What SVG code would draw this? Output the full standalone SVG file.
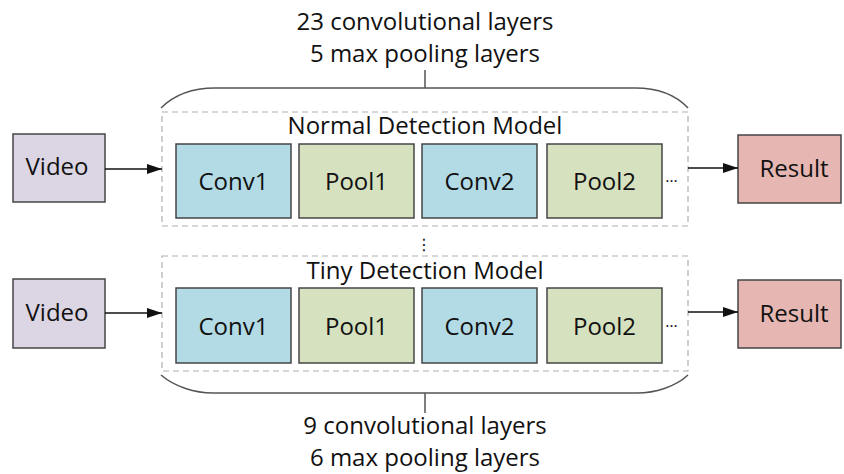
<svg xmlns="http://www.w3.org/2000/svg" width="844" height="474" viewBox="0 0 844 474">
<defs>
<marker id="ah" markerWidth="15" markerHeight="10" refX="15" refY="5" orient="auto" markerUnits="userSpaceOnUse">
<path d="M0,0 L15,5 L0,10 Z" fill="#111"/>
</marker>
<style>
text{font-family:"Open Sans","Liberation Sans",sans-serif;font-size:24px;fill:#111;text-anchor:middle}
.box{stroke:#454545;stroke-width:1.5}
.video{fill:#dcd6e4}
.conv{fill:#b2dbe6}
.pool{fill:#d6e1bf}
.result{fill:#e5b6b2}
.group{fill:none;stroke:#b0b0b0;stroke-width:1.2;stroke-dasharray:6,4}
.brace{fill:none;stroke:#555;stroke-width:1.5}
.conn{fill:none;stroke:#111;stroke-width:1.3}
.dots{font-size:16px}
</style>
</defs>
<rect width="844" height="474" fill="#fff"/>

<g id="label-top">
<text x="425" y="30">23 convolutional layers</text>
<text x="425" y="62">5 max pooling layers</text>
</g>
<g id="brace-top">
<path class="brace" d="M161,108 C175,94 195,88 215,88 L635,88 C655,88 675,94 688,108"/>
<line class="brace" x1="425" y1="70" x2="425" y2="88"/>
</g>

<g id="normal-model">
<rect class="group" x="162" y="112" width="526" height="114"/>
<text x="425" y="134">Normal Detection Model</text>
</g>
<g id="n-video"><rect class="box video" x="13" y="134" width="92" height="68"/><text x="57" y="175">Video</text></g>
<g id="n-conv1"><rect class="box conv" x="176" y="144" width="115" height="74"/><text x="233.5" y="190">Conv1</text></g>
<g id="n-pool1"><rect class="box pool" x="299" y="144" width="115" height="74"/><text x="356.5" y="190">Pool1</text></g>
<g id="n-conv2"><rect class="box conv" x="422" y="144" width="115" height="74"/><text x="479.5" y="190">Conv2</text></g>
<g id="n-pool2"><rect class="box pool" x="547" y="144" width="115" height="74"/><text x="604.5" y="190">Pool2</text></g>
<g id="n-dots"><text class="dots" x="671.5" y="182">…</text></g>
<g id="n-result"><rect class="box result" x="738" y="135" width="103" height="68"/><text x="794" y="177">Result</text></g>

<g id="between-dots"><text x="424" y="250" style="font-size:16px;font-family:'DejaVu Sans',sans-serif">⋮</text></g>

<g id="tiny-model">
<rect class="group" x="162" y="256" width="526" height="115"/>
<text x="425" y="279">Tiny Detection Model</text>
</g>
<g id="t-video"><rect class="box video" x="13" y="279" width="92" height="69"/><text x="57" y="321">Video</text></g>
<g id="t-conv1"><rect class="box conv" x="176" y="288" width="115" height="75"/><text x="233.5" y="335">Conv1</text></g>
<g id="t-pool1"><rect class="box pool" x="299" y="288" width="115" height="75"/><text x="356.5" y="335">Pool1</text></g>
<g id="t-conv2"><rect class="box conv" x="422" y="288" width="115" height="75"/><text x="479.5" y="335">Conv2</text></g>
<g id="t-pool2"><rect class="box pool" x="547" y="288" width="115" height="75"/><text x="604.5" y="335">Pool2</text></g>
<g id="t-dots"><text class="dots" x="671.5" y="327">…</text></g>
<g id="t-result"><rect class="box result" x="738" y="280" width="103" height="68"/><text x="794" y="322">Result</text></g>

<g id="brace-bottom">
<path class="brace" d="M161,375 C175,387 195,393 213,393 L637,393 C655,393 675,387 688,375"/>
<line class="brace" x1="425" y1="393" x2="425" y2="413"/>
</g>
<g id="label-bottom">
<text x="425" y="434">9 convolutional layers</text>
<text x="425" y="466">6 max pooling layers</text>
</g>

<g id="connectors">
<line class="conn" x1="105" y1="169" x2="162" y2="169" marker-end="url(#ah)"/>
<line class="conn" x1="688" y1="168" x2="738" y2="168" marker-end="url(#ah)"/>
<line class="conn" x1="105" y1="313" x2="162" y2="313" marker-end="url(#ah)"/>
<line class="conn" x1="688" y1="312" x2="738" y2="312" marker-end="url(#ah)"/>
</g>
</svg>
